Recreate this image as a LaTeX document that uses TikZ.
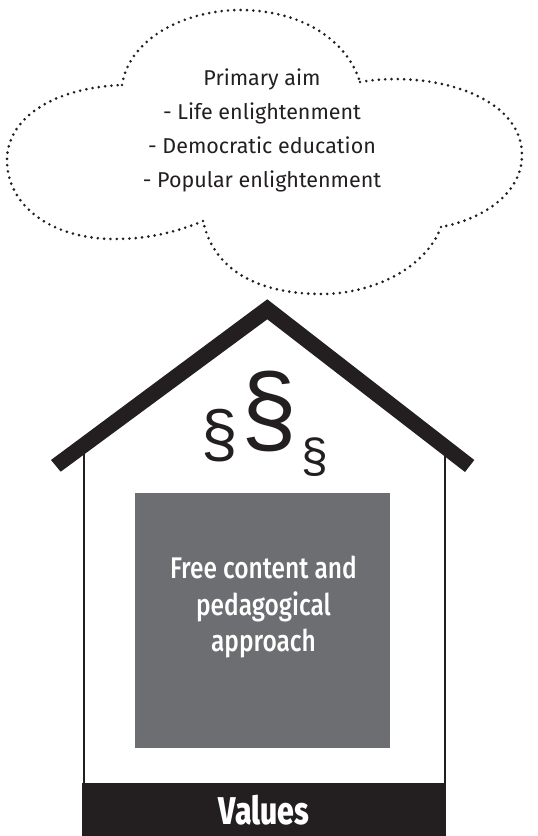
\documentclass[tikz,border=0pt]{standalone}
\usepackage{fontspec}
\setmainfont{Fira Sans}
\newfontfamily\sectfont{Liberation Sans}
\newfontfamily\condfont[FakeStretch=0.82]{Fira Sans Medium}
\newfontfamily\valuesfont[FakeStretch=0.78]{Fira Sans ExtraBold}
\definecolor{ink}{HTML}{231F20}
\definecolor{boxgrey}{HTML}{6D6E71}
\tikzset{
  cloudline/.style={ink,line width=2.2pt,line cap=round,dash pattern=on 0pt off 4.75pt},
  cloudtext/.style={text=ink,font=\fontsize{16.1}{16.1}\selectfont,inner sep=0pt,anchor=base},
  boxtext/.style={text=white,align=center,font=\condfont\fontsize{22.4}{27.6}\selectfont,inner sep=0pt},
  sect/.style={text=ink,inner sep=0pt},
  wall/.style={ink,line width=1.6pt}
}
\begin{document}
\begin{tikzpicture}[x=0.75pt,y=-0.75pt]
\useasboundingbox (0,0) rectangle (537,836);
% cloud
\coordinate (c1) at (122,85);
\coordinate (c2) at (360,82);
\coordinate (c3) at (441,227);
\coordinate (c4) at (203,221);
\draw[cloudline] (c1) .. controls (130,35) and (190,10) .. (240,10)
  .. controls (295,10) and (345,35) .. (360,82);
\draw[cloudline] (c2) .. controls (430,70) and (522,95) .. (522,155)
  .. controls (522,195) and (480,220) .. (441,227);
\draw[cloudline] (c3) .. controls (425,270) and (370,294) .. (322,294)
  .. controls (265,294) and (215,275) .. (203,221);
\draw[cloudline] (c4) .. controls (170,235) and (140,239) .. (115,239)
  .. controls (50,239) and (7,205) .. (7,160)
  .. controls (7,120) and (50,88) .. (c1);
\node[cloudtext] (t1) at (262,85.5) {Primary aim};
\node[cloudtext] (t2) at (262,119.5) {- Life enlightenment};
\node[cloudtext] (t3) at (262,153.5) {- Democratic education};
\node[cloudtext] (t4) at (262,187.5) {- Popular enlightenment};
% house
\draw[wall] (84,452) -- (84,783);
\draw[wall] (445,452) -- (445,783);
\fill[ink] (267.3,299.3) -- (474.3,460) -- (465,472) -- (267.3,319.3) -- (60.7,471.7) -- (51,460) -- cycle;
\fill[boxgrey] (135,493) rectangle (390,747.7);
\node[boxtext] (free) at (263.5,607) {Free content and\\pedagogical\\approach};
\fill[ink] (82,782.7) rectangle (446,836);
\node[text=white,inner sep=0pt,font=\valuesfont\fontsize{29}{29}\selectfont] (values) at (264,810) {Values};
% section signs
\node[sect,font=\sectfont\fontsize{75}{75}\selectfont] (s1) at (269.5,411) {§};
\node[sect,font=\sectfont\fontsize{49}{49}\selectfont] (s2) at (220,435.5) {§};
\node[sect,font=\sectfont\fontsize{36}{36}\selectfont] (s3) at (314.5,457) {§};
\end{tikzpicture}
\end{document}
